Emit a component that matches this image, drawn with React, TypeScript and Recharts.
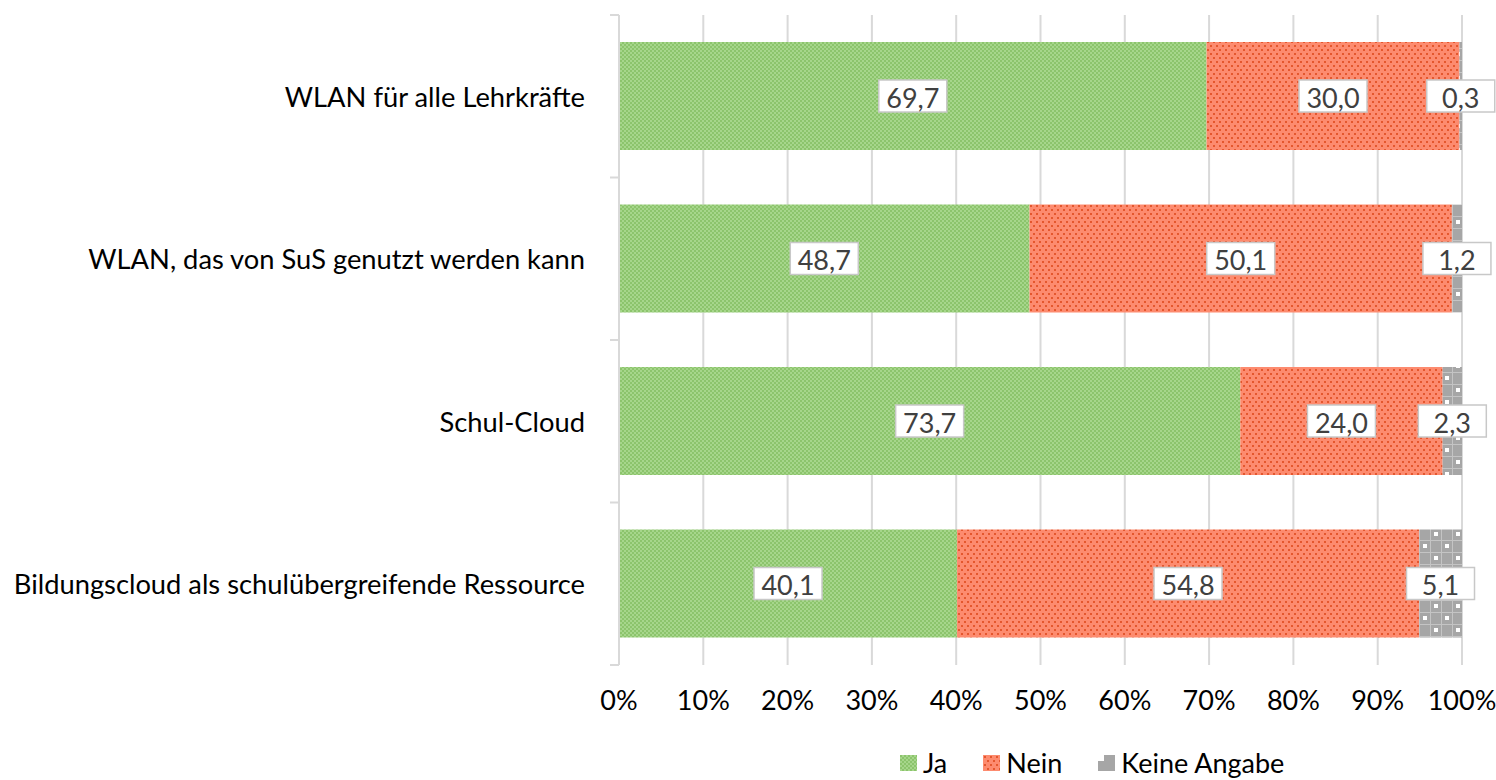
import { BarChart, Bar, XAxis, YAxis, CartesianGrid, Legend, LabelList } from "recharts";

const categories = [
  "WLAN für alle Lehrkräfte",
  "WLAN, das von SuS genutzt werden kann",
  "Schul-Cloud",
  "Bildungscloud als schulübergreifende Ressource",
];
const ja = [69.7, 48.7, 73.7, 40.1];
const nein = [30.0, 50.1, 24.0, 54.8];
const keine = [0.3, 1.2, 2.3, 5.1];
const xTicks = [0, 10, 20, 30, 40, 50, 60, 70, 80, 90, 100];

const series = [
  { key: "ja", name: "Ja", fill: "url(#patJa)", icon: "url(#patJa)" },
  { key: "nein", name: "Nein", fill: "url(#patNein)", icon: "url(#patNein)" },
  { key: "keine", name: "Keine Angabe", fill: "url(#patKeine)", icon: "" },
];

const data = categories.map((name, i) => ({ name, ja: ja[i], nein: nein[i], keine: keine[i] }));

const FONT = "Lato, 'Noto Sans', sans-serif";
const AXIS = "#d9d9d9";
const PLOT_H = 650;
const fmt = (v: number) => v.toFixed(1).replace(".", ",");

function BoxLabel(props: any) {
  const { x, y, width, height, value } = props;
  const cx = x + width / 2;
  const cy = y + height / 2;
  const w = 68;
  const h = 32;
  return (
    <g>
      <rect x={cx - w / 2} y={cy - h / 2} width={w} height={h} fill="#fff" stroke="#c8c8c8" strokeWidth={1.5} />
      <text x={cx} y={cy + 1} textAnchor="middle" dominantBaseline="central" fontSize={27} fill="#404040">
        {fmt(value)}
      </text>
    </g>
  );
}

// category label plus the small tick marks at the band edges
function CatTick(props: any) {
  const { x, y, payload, index } = props;
  const half = payload && payload.offset ? payload.offset : PLOT_H / categories.length / 2;
  const last = index === categories.length - 1;
  return (
    <g>
      <line x1={x - 9} x2={x} y1={y - half} y2={y - half} stroke={AXIS} strokeWidth={2} />
      {last && <line x1={x - 9} x2={x} y1={y + half} y2={y + half} stroke={AXIS} strokeWidth={2} />}
      <text x={x - 34} y={y} textAnchor="end" dominantBaseline="central" fontSize={27.3} fill="#000">
        {payload.value}
      </text>
    </g>
  );
}

function LegendContent() {
  return (
    <div style={{ display: "flex", alignItems: "center", marginLeft: 900, marginTop: 9, fontSize: 27, lineHeight: "27px", color: "#000", fontFamily: FONT }}>
      {series.map((s) => (
        <div key={s.key} style={{ display: "flex", alignItems: "center", marginRight: 36 }}>
          <svg width={17} height={16} style={{ marginRight: 6 }}>
            {s.icon ? (
              <rect width={17} height={16} fill={s.icon} />
            ) : (
              <g>
                <rect width={17} height={16} fill="#a6a6a6" />
                <rect width={6} height={6} fill="#ffffff" />
              </g>
            )}
          </svg>
          <span>{s.name}</span>
        </div>
      ))}
    </div>
  );
}

export default function App() {
  return (
    <div style={{ position: "absolute", left: 0, top: 0, width: 1496, height: 780, background: "#fff", fontFamily: FONT }}>
      <BarChart width={1496} height={780} data={data} layout="vertical" margin={{ top: 15, right: 34, bottom: 0, left: 0 }}>
        <defs>
          <pattern id="patJa" width={4} height={4} patternUnits="userSpaceOnUse">
            <rect width={4} height={4} fill="#a6d68b" />
            <rect width={2} height={2} fill="#8cc46c" />
            <rect x={2} y={2} width={2} height={2} fill="#8cc46c" />
          </pattern>
          <pattern id="patNein" width={6} height={8} patternUnits="userSpaceOnUse">
            <rect width={6} height={8} fill="#fd8b6f" />
            <rect x={1} y={1} width={2} height={2} fill="#e4572e" />
            <rect x={4} y={5} width={2} height={2} fill="#e4572e" />
          </pattern>
          <pattern id="patKeine" width={22} height={24} patternUnits="userSpaceOnUse">
            <rect width={22} height={24} fill="#a6a6a6" />
            <rect width={22} height={1} fill="#c4c4c4" />
            <rect y={12} width={22} height={1} fill="#c4c4c4" />
            <rect width={1} height={24} fill="#c4c4c4" />
            <rect x={11} width={1} height={24} fill="#c4c4c4" />
            <rect x={4} y={4} width={4} height={4} fill="#ffffff" />
            <rect x={15} y={16} width={4} height={4} fill="#ffffff" />
          </pattern>
        </defs>
        <CartesianGrid horizontal={false} stroke={AXIS} strokeWidth={2} />
        <XAxis
          type="number"
          domain={[0, 100]}
          ticks={xTicks}
          tickFormatter={(v) => `${v}%`}
          axisLine={false}
          tickLine={false}
          tickSize={0}
          tickMargin={26}
          height={75}
          tick={{ fontSize: 27, fill: "#000" }}
          interval={0}
        />
        <YAxis
          type="category"
          dataKey="name"
          width={619}
          axisLine={{ stroke: AXIS, strokeWidth: 2 }}
          tickLine={false}
          tickSize={0}
          tickMargin={0}
          interval={0}
          tick={<CatTick />}
        />
        <Legend verticalAlign="bottom" height={40} content={<LegendContent />} />
        {series.map((s) => (
          <Bar key={s.key} dataKey={s.key} name={s.name} stackId="a" fill={s.fill} barSize={108} isAnimationActive={false}>
            <LabelList dataKey={s.key} content={<BoxLabel />} />
          </Bar>
        ))}
      </BarChart>
    </div>
  );
}
